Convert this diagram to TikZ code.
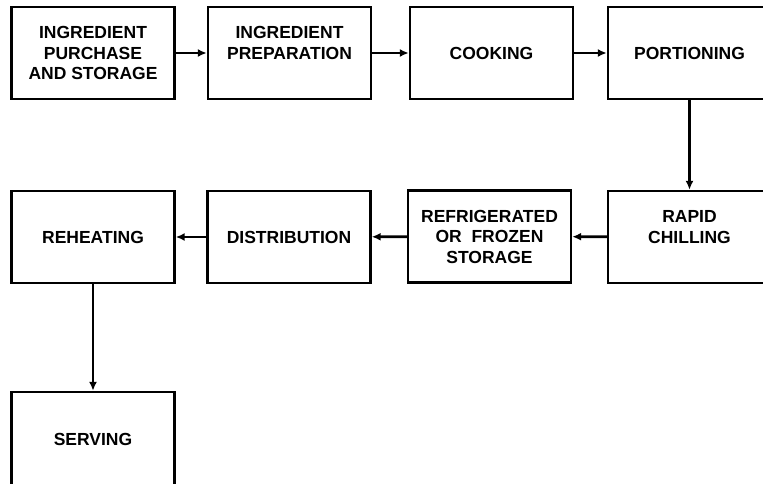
\documentclass[tikz,border=0pt]{standalone}
\usepackage{fontspec}
\setmainfont{Liberation Sans}
\usepackage{tikz}
\usetikzlibrary{arrows.meta}

\newcommand{\blankline}{\\ \mbox{}}

\begin{document}
\begin{tikzpicture}
	[   x=1pt,y=-1pt,
	    pbox/.style={draw=black,line width=2.4pt,fill=white,minimum width=163pt,minimum height=92pt,
	        align=center,inner sep=0pt,font=\fontsize{17.5}{20.5}\selectfont\bfseries},
	]
	\tikzset{normal arrow/.style={draw,line width=2.6pt,-{Latex[length=9pt,width=8pt]}}}
	\useasboundingbox (0,0) rectangle (763,484);

	% first row
	\node[pbox] (purchase) at (93,53) {INGREDIENT\\PURCHASE\\AND STORAGE};
	\node[pbox] (prep) at (289.5,53) {INGREDIENT\\PREPARATION\blankline};
	\node[pbox] (cooking) at (491.5,53) {COOKING};
	\node[pbox] (portion) at (689.5,53) {PORTIONING};

	% second row
	\node[pbox] (reheat) at (93,237) {REHEATING};
	\node[pbox] (distrib) at (289,237) {DISTRIBUTION};
	\node[pbox] (storage) at (489.5,236.5) {REFRIGERATED\\OR\ \ FROZEN\\STORAGE};
	\node[pbox] (chill) at (689.5,237) {RAPID\\CHILLING\blankline};

	% last box
	\node[pbox,minimum height=95pt] (serving) at (93,439.5) {SERVING};

	\path[normal arrow] (purchase) -- (prep);
	\path[normal arrow] (prep) -- (cooking);
	\path[normal arrow] (cooking) -- (portion);
	\path[normal arrow] (portion) -- (chill);
	\path[normal arrow] (chill) -- (storage);
	\path[normal arrow] (storage) -- (distrib);
	\path[normal arrow] (distrib) -- (reheat);
	\path[normal arrow] (reheat) -- (serving);
\end{tikzpicture}
\end{document}
